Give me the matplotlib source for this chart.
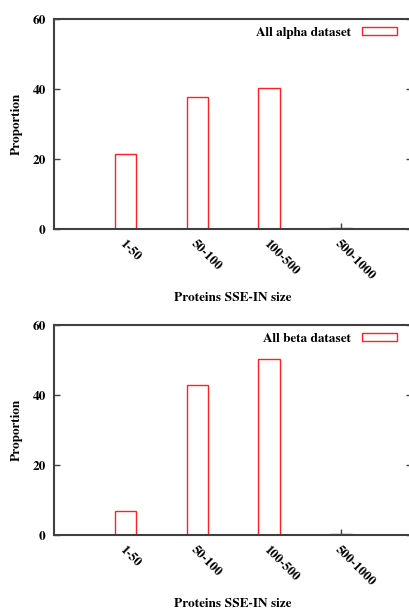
import matplotlib
matplotlib.use('Agg')
import matplotlib.pyplot as plt
import numpy as np

categories = ['1-50', '50-100', '100-500', '500-1000']
alpha_values = [21.4, 37.8, 40.4, 0.2]
beta_values = [6.9, 42.9, 50.4, 0.2]
y_ticks = [0, 20, 40, 60]

plt.rcParams['font.family'] = ['FreeSerif', 'Liberation Serif', 'DejaVu Serif']
plt.rcParams['font.weight'] = 'bold'

W, H = 410, 610
fig = plt.figure(figsize=(W / 100, H / 100), dpi=100)
fig.patch.set_facecolor('white')

axis_col = '#404040'
fs = 9.5


def panel(top_px, bottom_px, values, label, xlabel_px):
    left_px, right_px = 54, 412.5
    h = bottom_px - top_px
    ax = fig.add_axes([left_px / W, 1 - bottom_px / H,
                       (right_px - left_px) / W, h / H])
    x = np.arange(len(categories))
    ax.bar(x, values, width=0.3, facecolor='white', edgecolor='#ff2020',
           linewidth=1.0, label=label, zorder=2)
    ax.set_xlim(-1, 4)
    ax.set_ylim(0, 60)
    ax.set_yticks(y_ticks)
    ax.set_xticks(x)
    ax.set_xticklabels(categories, rotation=-45, ha='left', va='top',
                       rotation_mode='anchor', fontsize=fs, fontweight='bold')
    ax.tick_params(axis='x', direction='in', length=4, width=1, color=axis_col,
                   pad=6, top=False)
    ax.tick_params(axis='y', direction='in', length=4, width=1, color=axis_col,
                   right=True, labelsize=fs, pad=6)
    for lab in ax.get_yticklabels():
        lab.set_fontweight('bold')
    for s in ax.spines.values():
        s.set_color(axis_col)
        s.set_linewidth(1.5)
        s.set_zorder(3)
    ax.set_ylabel('Proportion', fontsize=fs, fontweight='bold', va='center')
    ax.yaxis.set_label_coords(-37 / (right_px - left_px), 0.5)
    ax.set_xlabel('Proteins SSE-IN size', fontsize=fs, fontweight='bold',
                  va='center')
    ax.xaxis.set_label_coords(0.5, (bottom_px - xlabel_px) / h)
    leg = ax.legend(loc='upper right', frameon=False, fontsize=fs,
                    markerfirst=False, handlelength=2.7, handleheight=0.5,
                    handletextpad=0.8, borderaxespad=0.2,
                    bbox_to_anchor=(0.98, 1.0))
    for t in leg.get_texts():
        t.set_fontweight('bold')
    return ax


panel(19, 229, alpha_values, 'All alpha dataset', 298)
panel(325, 535, beta_values, 'All beta dataset', 604)

fig.savefig('out.png', dpi=100)
